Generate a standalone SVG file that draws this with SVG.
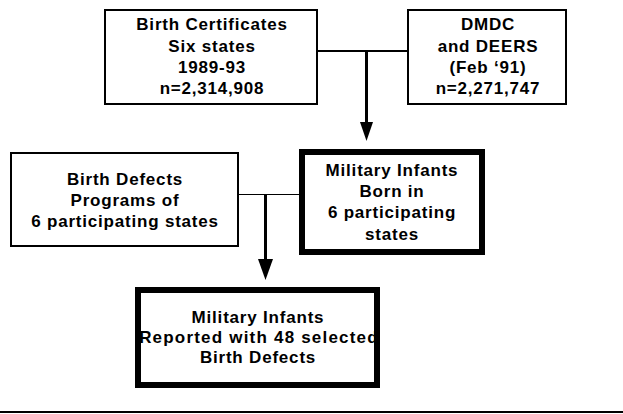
<svg xmlns="http://www.w3.org/2000/svg" width="623" height="414" viewBox="0 0 623 414">
<style>
.box{fill:#fff;stroke:#000}
.thin{stroke-width:2}
.thick{stroke-width:6}
text{font-family:"Liberation Sans",Arial,sans-serif;font-weight:bold;font-size:17px;fill:#000;text-anchor:middle;letter-spacing:0.8px}
.conn{stroke:#000;fill:none}
</style>
<defs>
<clipPath id="clip5"><rect x="141" y="293" width="233" height="89"/></clipPath>
</defs>
<rect width="623" height="414" fill="#fff"/>
<g id="connectors">
<line class="conn" x1="317" y1="51" x2="408" y2="51" stroke-width="2"/>
<line class="conn" x1="366.5" y1="51" x2="366.5" y2="125" stroke-width="3"/>
<polygon points="360,122 373,122 366.5,141" fill="#000"/>
<line class="conn" x1="238" y1="194.5" x2="300" y2="194.5" stroke-width="1"/>
<line class="conn" x1="265.5" y1="194" x2="265.5" y2="261" stroke-width="3"/>
<polygon points="258,259 273,259 265.5,280" fill="#000"/>
<line class="conn" x1="0" y1="412" x2="623" y2="412" stroke-width="2"/>
</g>
<g id="birth-certificates">
<rect class="box thin" x="105" y="10" width="212" height="94"/>
<text x="212" y="30">Birth Certificates</text>
<text x="212" y="52">Six states</text>
<text x="212" y="73">1989-93</text>
<text x="212" y="94">n=2,314,908</text>
</g>
<g id="dmdc">
<rect class="box thin" x="408" y="10" width="158" height="94"/>
<text x="488" y="30">DMDC</text>
<text x="488" y="52">and DEERS</text>
<text x="488" y="73">(Feb ‘91)</text>
<text x="488" y="94">n=2,271,747</text>
</g>
<g id="birth-defects">
<rect class="box thin" x="11" y="153" width="227" height="93"/>
<text x="125" y="185">Birth Defects</text>
<text x="125" y="206">Programs of</text>
<text x="125" y="227">6 participating states</text>
</g>
<g id="military-born">
<rect class="box thick" x="302" y="152" width="180" height="100"/>
<text x="392" y="176">Military Infants</text>
<text x="392" y="197">Born in</text>
<text x="392" y="218">6 participating</text>
<text x="392" y="240">states</text>
</g>
<g id="military-reported">
<rect x="138" y="290" width="239" height="95" fill="#fff"/>
<g clip-path="url(#clip5)">
<text x="258" y="323">Military Infants</text>
<text x="259" y="343" style="letter-spacing:1.2px">Reported with 48 selected</text>
<text x="258" y="363">Birth Defects</text>
</g>
<rect class="thick" x="138" y="290" width="239" height="95" fill="none" stroke="#000"/>
</g>
</svg>
